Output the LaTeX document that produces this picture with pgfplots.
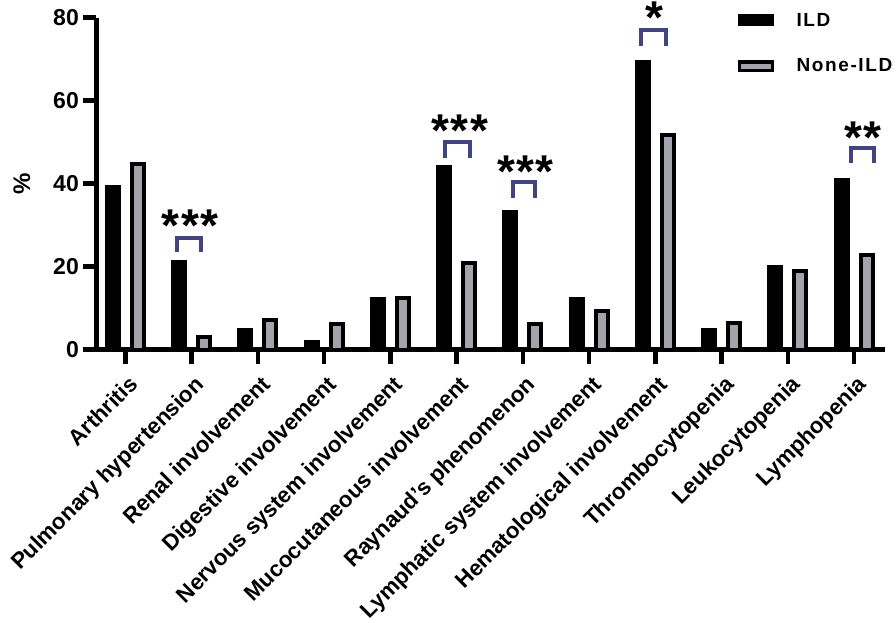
\documentclass[border=0pt]{standalone}
\usepackage{fontspec}
\setmainfont{Liberation Sans}
\usepackage{pgfplots}
\pgfplotsset{compat=1.18}
\definecolor{ngray}{RGB}{163,163,170}
\definecolor{brk}{RGB}{64,68,132}
\begin{document}
\begin{tikzpicture}
\begin{axis}[name=ax,
 scale only axis, width=788.5pt, height=332pt,
 ybar, ymin=0, ymax=80, xmin=-0.435, xmax=11.467,
 clip=false,
 axis x line*=bottom, axis y line*=left,
 axis line style={line width=4.5pt, -},
 tick style={line width=4.5pt, black}, major tick length=14pt, tick align=outside,
 xtick={0,...,11},
 xticklabels={Arthritis, Pulmonary hypertension, Renal involvement, Digestive involvement, Nervous system involvement, Mucocutaneous involvement, Raynaud’s phenomenon, Lymphatic system involvement, Hematological involvement, Thrombocytopenia, Leukocytopenia, Lymphopenia},
 xticklabel style={rotate=45, anchor=north east, font=\fontsize{22.3}{25}\selectfont\bfseries, inner sep=2pt, xshift=-4pt, yshift=-7pt},
 ytick={0,20,40,60,80},
 /pgf/number format/assume math mode=true,
 yticklabel style={font=\fontsize{23}{26}\selectfont\bfseries, inner sep=3.5pt},
 ylabel={\%},
 every axis y label/.style={at={(rel axis cs:-0.0945,0.5)}, rotate=90, anchor=center, font=\fontsize{24}{26}\selectfont\bfseries},
 legend style={draw=none, fill=none, inner sep=0pt, at={(rel axis cs:0.8131,1.0136)}, anchor=north west,
   font=\fontsize{19}{21}\selectfont\bfseries\addfontfeature{LetterSpace=8.5}, row sep=31pt, column sep=0pt,
   nodes={inner sep=0pt}},
 legend cell align=left,
]
\addplot[fill=black, draw=black, line width=4pt, bar width=12pt, bar shift=-12.5pt,
  legend image code/.code={\draw[fill=black,draw=black,line width=3.5pt] (0pt,-4.25pt) rectangle (33pt,4.25pt); \path (55pt,0pt);}]
 coordinates {(0,39.2) (1,21.1) (2,4.7) (3,1.8) (4,12.2) (5,44.0) (6,33.1) (7,12.2) (8,69.3) (9,4.7) (10,19.9) (11,40.8)};
\addlegendentry{ILD}
\addplot[fill=ngray, draw=black, line width=4pt, bar width=12pt, bar shift=12.5pt,
  legend image code/.code={\draw[fill=ngray,draw=black,line width=3.5pt] (0pt,-4.25pt) rectangle (33pt,4.25pt); \path (55pt,0pt);}]
 coordinates {(0,44.7) (1,3.0) (2,7.1) (3,6.1) (4,12.4) (5,20.8) (6,6.1) (7,9.3) (8,51.7) (9,6.4) (10,18.9) (11,22.8)};
\addlegendentry{None-ILD}
% significance brackets
\tikzset{brkt/.style={brk, line width=4pt, line join=miter}}
\draw[brkt] (axis cs:0.785,23.5) -- (axis cs:0.785,26.8) -- (axis cs:1.135,26.8) -- (axis cs:1.135,23.5);
\draw[brkt] (axis cs:4.83,46.1) -- (axis cs:4.83,50.0) -- (axis cs:5.20,50.0) -- (axis cs:5.20,46.1);
\draw[brkt] (axis cs:5.85,36.5) -- (axis cs:5.85,40.3) -- (axis cs:6.19,40.3) -- (axis cs:6.19,36.5);
\draw[brkt] (axis cs:7.79,73.1) -- (axis cs:7.79,77.0) -- (axis cs:8.16,77.0) -- (axis cs:8.16,73.1);
\draw[brkt] (axis cs:10.95,44.9) -- (axis cs:10.95,48.5) -- (axis cs:11.30,48.5) -- (axis cs:11.30,44.9);
\tikzset{stars/.style={font=\fontsize{46}{46}\selectfont\bfseries, inner sep=0pt, anchor=base, yshift=-26pt}}
\node[stars] at (axis cs:0.98,32.4) {*\kern1.5pt*\kern1.5pt*};
\node[stars] at (axis cs:5.05,55.1) {*\kern1.5pt*\kern1.5pt*};
\node[stars] at (axis cs:6.04,45.4) {*\kern1.5pt*\kern1.5pt*};
\node[stars] at (axis cs:7.98,82.5) {*};
\node[stars] at (axis cs:11.13,53.6) {*\kern1.5pt*};
\end{axis}
\pgfresetboundingbox
\path ([shift={(-96.5pt,-272.5pt)}]ax.south west) rectangle ([shift={(799.5pt,349.5pt)}]ax.south west);
\end{tikzpicture}
\end{document}
